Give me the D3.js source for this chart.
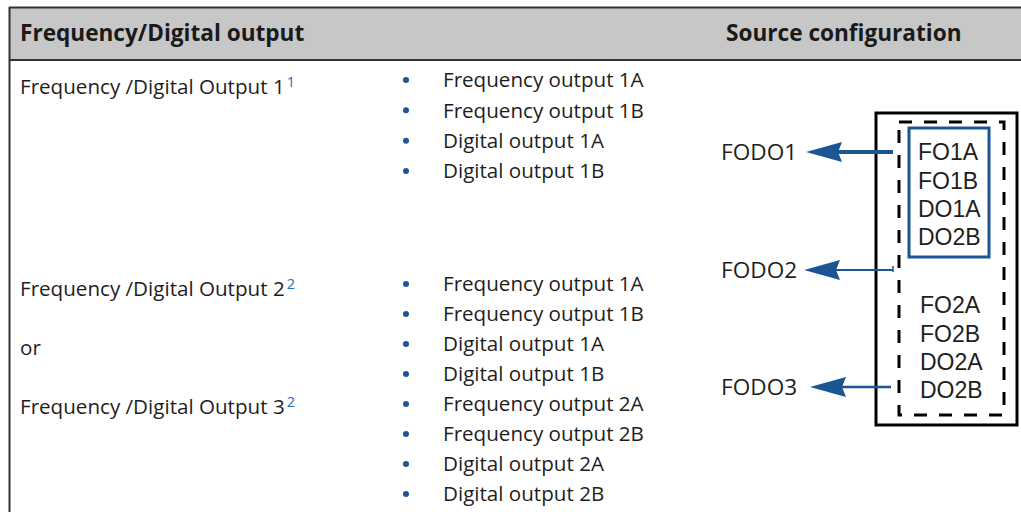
<!DOCTYPE html>
<html><head><meta charset="utf-8">
<script src="https://cdn.jsdelivr.net/npm/d3@7"></script>
<style>
html,body{margin:0;padding:0;background:#fff;}
svg{display:block;}
text{font-family:"Open Sans","Noto Sans",sans-serif;}
text.src{font-family:"Liberation Sans",Arial,sans-serif;}
</style></head>
<body>
<script>
// ---- data ----
const headers = ["Frequency/Digital output", "Source configuration"];
const group1Labels = ["Frequency /Digital Output 1"];
const group1Sups = ["1"];
const group2Labels = ["Frequency /Digital Output 2", "or", "Frequency /Digital Output 3"];
const group2Sups = ["2", "", "2"];
const bullets1 = ["Frequency output 1A", "Frequency output 1B", "Digital output 1A", "Digital output 1B"];
const bullets2 = ["Frequency output 1A", "Frequency output 1B", "Digital output 1A", "Digital output 1B",
                  "Frequency output 2A", "Frequency output 2B", "Digital output 2A", "Digital output 2B"];
const sources1 = ["FO1A", "FO1B", "DO1A", "DO2B"];
const sources2 = ["FO2A", "FO2B", "DO2A", "DO2B"];
const outputs = ["FODO1", "FODO2", "FODO3"];

// ---- layout ----
const W = 1021, H = 512;
const blue = "#1b5593", ink = "#1f1d22";
const svg = d3.select("body").append("svg").attr("width", W).attr("height", H);

// header
svg.append("rect").attr("x", 9).attr("y", 7).attr("width", W - 9).attr("height", 53).attr("fill", "#c7c7c7");
svg.append("line").attr("x1", 9).attr("x2", W).attr("y1", 7.5).attr("y2", 7.5).attr("stroke", "#333").attr("stroke-width", 2);
svg.append("line").attr("x1", 9).attr("x2", W).attr("y1", 60).attr("y2", 60).attr("stroke", "#333").attr("stroke-width", 2);
svg.append("line").attr("x1", 9.5).attr("x2", 9.5).attr("y1", 7).attr("y2", H).attr("stroke", "#333").attr("stroke-width", 2);

const headerX = d3.scaleOrdinal().domain(headers).range([20, 726]);
svg.selectAll("text.hdr").data(headers).join("text").attr("class", "hdr")
  .attr("x", d => headerX(d)).attr("y", 41)
  .attr("font-size", 22.6).attr("font-weight", 700).attr("fill", "#1a1a1a")
  .text(d => d);

// bullet rows
const rowY1 = d3.scalePoint().domain(d3.range(bullets1.length)).range([80, 171]);
const rowY2 = d3.scalePoint().domain(d3.range(bullets2.length)).range([284, 494]);

function drawBullets(list, yScale, cls) {
  const g = svg.append("g").attr("class", cls);
  const row = g.selectAll("g").data(list).join("g")
    .attr("transform", (d, i) => `translate(0,${yScale(i)})`);
  row.append("circle").attr("cx", 406).attr("cy", 0).attr("r", 3).attr("fill", blue);
  row.append("text").attr("x", 443).attr("dy", "0.35em")
    .attr("font-size", 20.6).attr("fill", ink).text(d => d);
}
drawBullets(bullets1, rowY1, "b1");
drawBullets(bullets2, rowY2, "b2");

// left labels
const labY1 = d3.scalePoint().domain(d3.range(group1Labels.length)).range([87, 87]);
const labY2 = d3.scalePoint().domain(d3.range(group2Labels.length)).range([289, 407]);
function drawLabels(list, sups, yScale) {
  const t = svg.append("g").selectAll("text").data(list).join("text")
    .attr("x", 20).attr("y", (d, i) => yScale(i)).attr("dy", "0.35em")
    .attr("font-size", 20.6).attr("fill", ink);
  t.append("tspan").text(d => d);
  t.append("tspan").attr("dy", "-0.5em").attr("dx", 2).attr("font-size", 14.5).attr("fill", "#2a6bbf")
    .text((d, i) => sups[i]);
}
drawLabels(group1Labels, group1Sups, labY1);
drawLabels(group2Labels, group2Sups, labY2);

// diagram
// outer solid box
svg.append("rect").attr("x", 876).attr("y", 113).attr("width", 141).attr("height", 312)
  .attr("fill", "none").attr("stroke", "#000").attr("stroke-width", 3);
// dashed box
svg.append("rect").attr("x", 899).attr("y", 122).attr("width", 105).attr("height", 293)
  .attr("fill", "none").attr("stroke", "#000").attr("stroke-width", 3)
  .attr("stroke-dasharray", "13,12");
// blue solid box
svg.append("rect").attr("x", 909).attr("y", 128).attr("width", 80).attr("height", 129)
  .attr("fill", "none").attr("stroke", blue).attr("stroke-width", 3);

const srcY1 = d3.scalePoint().domain(sources1.map((d, i) => i)).range([152, 237]);
const srcY2 = d3.scalePoint().domain(sources2.map((d, i) => i)).range([305, 390]);
svg.append("g").selectAll("text").data(sources1).join("text").attr("class", "src")
  .attr("x", 918).attr("y", (d, i) => srcY1(i)).attr("dy", "0.36em")
  .attr("font-size", 23).attr("fill", ink).text(d => d);
svg.append("g").selectAll("text").data(sources2).join("text").attr("class", "src")
  .attr("x", 920).attr("y", (d, i) => srcY2(i)).attr("dy", "0.36em")
  .attr("font-size", 23).attr("fill", ink).text(d => d);

// outputs with arrows
const outY = d3.scaleOrdinal().domain(outputs).range([152, 270, 387]);
const arrowW = d3.scaleOrdinal().domain(outputs).range([4, 2, 2.5]);
const arrowTip = d3.scaleOrdinal().domain(outputs).range([806, 804, 810]);
const arrowEnd = d3.scaleOrdinal().domain(outputs).range([893, 893, 891]);
const og = svg.append("g").selectAll("g").data(outputs).join("g")
  .attr("transform", d => `translate(0,${outY(d)})`);
og.append("text").attr("x", 721).attr("dy", "0.35em").attr("font-size", 22.6).attr("fill", ink).text(d => d);
og.append("line").attr("x1", d => arrowTip(d) + 20).attr("x2", d => arrowEnd(d))
  .attr("y1", 0).attr("y2", 0).attr("stroke", blue).attr("stroke-width", d => arrowW(d));
og.append("path").attr("d", d => `M${arrowTip(d)},0 L${arrowTip(d) + 36},-10 L${arrowTip(d) + 32},0 L${arrowTip(d) + 36},10 Z`)
  .attr("fill", blue);
// small tick at FODO2 line end
svg.append("line").attr("x1", 893).attr("x2", 893).attr("y1", outY("FODO2") - 4).attr("y2", outY("FODO2") + 2)
  .attr("stroke", blue).attr("stroke-width", 1.5);
</script>
</body></html>
